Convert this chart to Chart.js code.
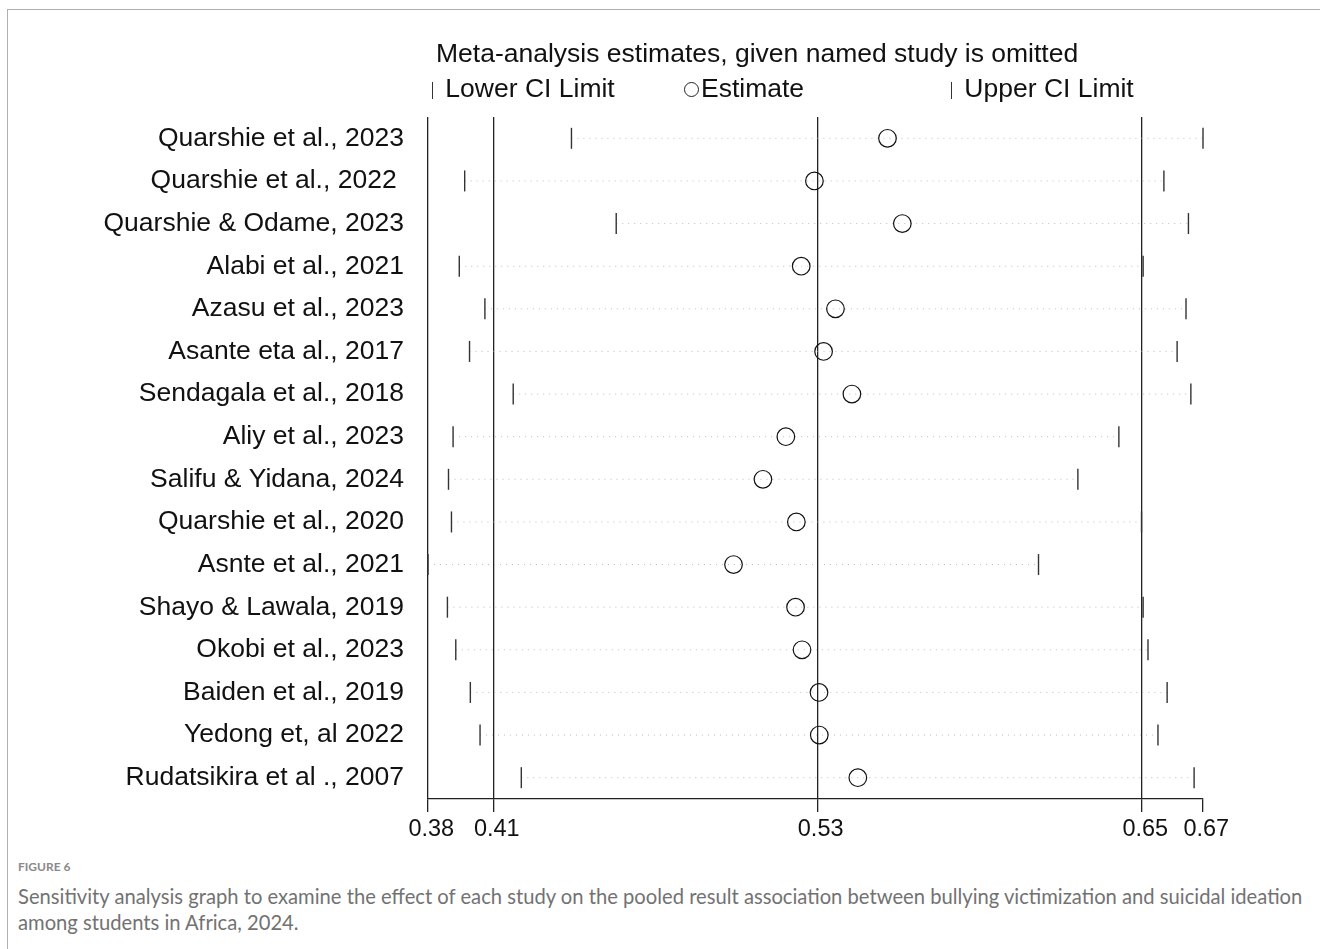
<!DOCTYPE html>
<html>
<head>
<meta charset="utf-8">
<script src="https://cdn.jsdelivr.net/npm/chart.js@4.4.1/dist/chart.umd.min.js"></script>
<style>
    body { margin: 0; background: #fff; }
    #page { position: relative; width: 1320px; height: 949px; overflow: hidden; background: #fff; }
    #frame { position: absolute; left: 7px; top: 9px; width: 1400px; height: 1000px;
             border-top: 1px solid #b0b0b0; border-left: 1px solid #b0b0b0; }
    #chartBox { position: absolute; left: 0; top: 0; }
    .txt { position: absolute; font-family: 'Liberation Sans', Arial, sans-serif; font-size: 26.5px;
           line-height: 30px; color: #111; white-space: nowrap; }
    .bar { display: inline-block; width: 1px; height: 17px; background: #333; vertical-align: -2px; margin-right: 5px; }
    .ring { display: inline-block; width: 13px; height: 13px; border: 1px solid #222; border-radius: 50%;
            vertical-align: 0px; margin-right: 2px; }
    .caption { position: absolute; left: 18px; font-family: Lato, 'Open Sans', sans-serif; color: #727272; white-space: nowrap; }
</style>
</head>
<body>
<div id="page">
    <div id="frame"></div>
    <div id="chartBox"><canvas id="sensChart" width="1320" height="859"></canvas></div>
    <div class="txt" style="left:436px; top:38px;">Meta-analysis estimates, given named study is omitted</div>
    <div class="txt" style="left:432px; top:73px;"><span class="bar"></span> Lower CI Limit</div>
    <div class="txt" style="left:684px; top:73px;"><span class="ring"></span>Estimate</div>
    <div class="txt" style="left:951px; top:73px;"><span class="bar"></span> Upper CI Limit</div>
    <div class="caption" style="top:859px; font-size:12px; font-weight:700; color:#8a8a8a;">FIGURE 6</div>
    <div class="caption" style="top:883px; font-size:20.2px; line-height:26px;">Sensitivity analysis graph to examine the effect of each study on the pooled result association between bullying victimization and suicidal ideation<br>among students in Africa, 2024.</div>
</div>
<script>
// studies, in the order shown from top to bottom
const studies = [
    'Quarshie et al., 2023',
    'Quarshie et al., 2022 ',
    'Quarshie & Odame, 2023',
    'Alabi et al., 2021',
    'Azasu et al., 2023',
    'Asante eta al., 2017',
    'Sendagala et al., 2018',
    'Aliy et al., 2023',
    'Salifu & Yidana, 2024',
    'Quarshie et al., 2020',
    'Asnte et al., 2021',
    'Shayo & Lawala, 2019',
    'Okobi et al., 2023',
    'Baiden et al., 2019',
    'Yedong et, al 2022',
    'Rudatsikira et al ., 2007'
];

const lowerCI = [0.4356, 0.3960, 0.4522, 0.3940, 0.4035, 0.3978, 0.4140, 0.3917,
                 0.3900, 0.3911, 0.3824, 0.3896, 0.3927, 0.3981, 0.4017, 0.4170];
const estimate = [0.5528, 0.5257, 0.5583, 0.5208, 0.5335, 0.5291, 0.5396, 0.5151,
                  0.5066, 0.5190, 0.4957, 0.5187, 0.5211, 0.5274, 0.5275, 0.5418];
const upperCI = [0.6698, 0.6553, 0.6644, 0.6476, 0.6635, 0.6602, 0.6653, 0.6386,
                 0.6234, 0.6470, 0.6088, 0.6476, 0.6494, 0.6565, 0.6531, 0.6665];

// axis min, pooled lower CI, pooled estimate, pooled upper CI, axis max
const xTicks = [0.3824, 0.4067, 0.5268, 0.6472, 0.6698];

const fontFamily = "'Liberation Sans', Arial, sans-serif";

const rangeLine = [];
studies.forEach((s, i) => {
    rangeLine.push({ x: lowerCI[i], y: s });
    rangeLine.push({ x: upperCI[i], y: s });
    rangeLine.push({ x: null, y: s });
});

const ctx = document.getElementById('sensChart').getContext('2d');
new Chart(ctx, {
    type: 'scatter',
    data: {
        datasets: [
            {
                label: 'range',
                data: rangeLine,
                showLine: true,
                spanGaps: false,
                borderColor: '#bdbdbd',
                borderWidth: 1,
                borderDash: [1, 5],
                pointRadius: 0,
                order: 3
            },
            {
                label: 'Lower CI Limit',
                data: studies.map((s, i) => ({ x: lowerCI[i], y: s })),
                pointStyle: 'line',
                rotation: 90,
                pointRadius: 10.5,
                borderColor: '#333',
                borderWidth: 1.4,
                clip: false,
                order: 1
            },
            {
                label: 'Estimate',
                data: studies.map((s, i) => ({ x: estimate[i], y: s })),
                pointStyle: 'circle',
                pointRadius: 8.8,
                borderColor: '#111',
                borderWidth: 1.2,
                backgroundColor: 'rgba(0,0,0,0)',
                clip: false,
                order: 0
            },
            {
                label: 'Upper CI Limit',
                data: studies.map((s, i) => ({ x: upperCI[i], y: s })),
                pointStyle: 'line',
                rotation: 90,
                pointRadius: 10.5,
                borderColor: '#333',
                borderWidth: 1.4,
                clip: false,
                order: 1
            }
        ]
    },
    options: {
        responsive: false,
        animation: false,
        events: [],
        layout: {
            padding: { top: 117, right: 117, left: 0, bottom: 0 }
        },
        plugins: {
            legend: { display: false },
            title: { display: false },
            tooltip: { enabled: false }
        },
        scales: {
            x: {
                type: 'linear',
                min: xTicks[0],
                max: xTicks[xTicks.length - 1],
                afterBuildTicks: function(scale) {
                    scale.ticks = xTicks.map(v => ({ value: v }));
                },
                afterFit: function(scale) {
                    scale.height = 60;
                },
                ticks: {
                    autoSkip: false,
                    maxRotation: 0,
                    padding: 3,
                    color: '#111',
                    font: { family: fontFamily, size: 23.5 },
                    callback: function(value) {
                        // leading space nudges the label a little right of its line, as in the original
                        return ' ' + value.toFixed(2);
                    }
                },
                grid: {
                    color: function(c) {
                        return c.index < xTicks.length - 1 ? '#222' : 'rgba(0,0,0,0)';
                    },
                    lineWidth: 1.3,
                    tickLength: 13,
                    tickColor: '#222'
                },
                border: { display: true, color: '#222', width: 1.3 }
            },
            y: {
                type: 'category',
                labels: studies,
                offset: true,
                afterFit: function(scale) {
                    scale.width = 428;
                },
                ticks: {
                    padding: 24,
                    color: '#111',
                    font: { family: fontFamily, size: 26.5 }
                },
                grid: { display: false, drawTicks: false },
                border: { display: false }
            }
        }
    }
});
</script>
</body>
</html>
